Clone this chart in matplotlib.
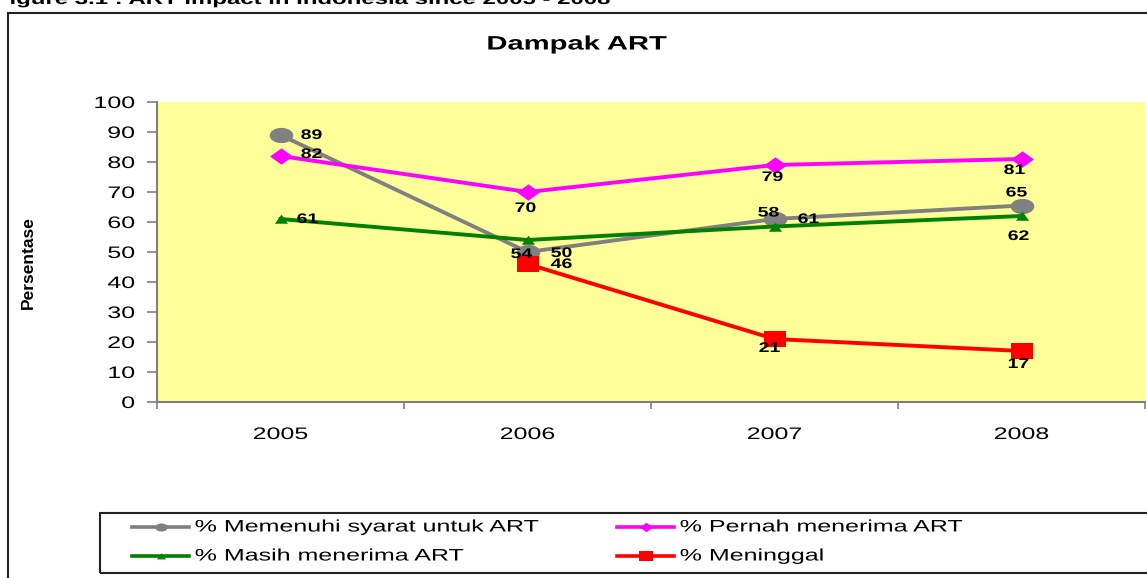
import numpy as np
import matplotlib
matplotlib.use("Agg")
import matplotlib.pyplot as plt
from matplotlib.patches import Rectangle
from matplotlib.lines import Line2D
from matplotlib.path import Path
from matplotlib.transforms import Affine2D
from matplotlib.patheffects import AbstractPathEffect

plt.rcParams['font.family'] = ['Liberation Sans', 'DejaVu Sans']

# data
years = ['2005', '2006', '2007', '2008']
memenuhi = [89, 50, 61, 65.5]
pernah = [82, 70, 79, 81]
masih = [61, 54, 58.5, 62]
meninggal = [None, 46, 21, 17]

memenuhi_lbl = ['89', '50', '61', '65']
pernah_lbl = ['82', '70', '79', '81']
masih_lbl = ['61', '54', '58', '62']
meninggal_lbl = [None, '46', '21', '17']

names = ['% Memenuhi syarat untuk ART', '% Pernah menerima ART',
         '% Masih menerima ART', '% Meninggal']


class Stretch(AbstractPathEffect):
    """widen text horizontally, the source picture was stretched"""
    def __init__(self, sx=1.5, anchor='center'):
        super().__init__()
        self.sx = sx
        self.anchor = anchor

    def draw_path(self, renderer, gc, tpath, affine, rgbFace=None):
        ext = tpath.transformed(affine).get_extents()
        cx = {'left': ext.x0, 'right': ext.x1}.get(self.anchor, 0.5 * (ext.x0 + ext.x1))
        aff = affine + Affine2D().translate(-cx, 0).scale(self.sx, 1).translate(cx, 0)
        renderer.draw_path(gc, tpath, aff, rgbFace)


SX = 1.5

# stretched marker shapes
t = np.linspace(0, 2 * np.pi, 61)
m_ell = Path(np.c_[1.55 * np.cos(t), np.sin(t)], closed=True)
m_dia = Path([(0, 1), (1.4, 0), (0, -1), (-1.4, 0), (0, 1)], closed=True)
m_sq = Path([(-1.45, -1), (1.45, -1), (1.45, 1), (-1.45, 1), (-1.45, -1)], closed=True)
m_tri = Path([(-0.65, -0.42), (0.65, -0.42), (0, 0.48), (-0.65, -0.42)], closed=True)

W, H = 1147, 578
fig = plt.figure(figsize=(W / 100, H / 100), dpi=100)

# outer chart frame
fig.patches.append(Rectangle((8 / W, -0.05), 1.1, (H - 13) / H + 0.05,
                             transform=fig.transFigure, fill=False,
                             edgecolor='#222222', lw=1.5, clip_on=False))
fig.text(-0.004, 1 - 4 / H, 'Figure 3.1 : ART Impact in Indonesia since 2005 - 2008',
         fontsize=11.5, fontweight='bold', va='baseline', ha='left',
         path_effects=[Stretch(SX, 'left')])
fig.text(577 / W, 1 - 45 / H, 'Dampak ART', fontsize=14, fontweight='bold',
         ha='center', va='center', path_effects=[Stretch(SX)])

ax = fig.add_axes([157 / W, (H - 402) / H, (1145 - 157) / W, 300 / H])
ax.set_facecolor('#FFFF99')
x = list(range(len(years)))

series = [
    (memenuhi, memenuhi_lbl, '#808080', m_ell, 17, 9,
     [(31, 0), (34, -1), (34, 0), (-5, 13)]),
    (pernah, pernah_lbl, '#FF00FF', m_dia, 16.5, 9.5,
     [(31, 2), (-2, -16), (-2, -12), (-7, -11)]),
    (masih, masih_lbl, '#008000', m_tri, 9.5, 6.5,
     [(27, 0), (-6, -14), (-6, 14), (-3, -20)]),
    (meninggal, meninggal_lbl, '#FF0000', m_sq, 16.5, 10,
     [None, (34, 0), (-5, -9), (-3, -13)]),
]

handles = []
for vals, lbls, col, mk, ms, ms_leg, offs in series:
    xs = [i for i, v in zip(x, vals) if v is not None]
    ys = [v for v in vals if v is not None]
    ax.plot(xs, ys, color=col, lw=2.8, marker=mk, markersize=ms,
            markeredgewidth=0, zorder=3, clip_on=False)
    for i, v in enumerate(vals):
        if v is None:
            continue
        ax.annotate(lbls[i], (i, v), xytext=offs[i], textcoords='offset pixels',
                    ha='center', va='center', fontsize=10, fontweight='bold',
                    zorder=5, path_effects=[Stretch(1.4)])
    handles.append((col, mk, ms_leg))

ax.set_xlim(-0.5, 3.5)
ax.set_ylim(0, 100)
ax.set_yticks(range(0, 101, 10))
ax.set_xticks(x)
ax.set_xticklabels(years)
ax.set_xticks([-0.5, 0.5, 1.5, 2.5, 3.5], minor=True)
ax.tick_params(axis='x', which='major', length=0, pad=18, labelsize=12)
ax.tick_params(axis='x', which='minor', length=5, color='#808080', width=1.2)
ax.tick_params(axis='y', length=7, color='#808080', width=1.2, labelsize=12, pad=9)
for tl in ax.get_xticklabels():
    tl.set_path_effects([Stretch(SX)])
for tl in ax.get_yticklabels():
    tl.set_path_effects([Stretch(SX, 'right')])
for s in ['top', 'right']:
    ax.spines[s].set_visible(False)
for s in ['left', 'bottom']:
    ax.spines[s].set_color('#808080')
    ax.spines[s].set_linewidth(1.5)

fig.text(28 / W, 1 - 263 / H, 'Persentase', rotation=90, fontsize=12.5,
         fontweight='bold', ha='center', va='center')

# legend box, two rows of two entries
fig.patches.append(Rectangle((100 / W, (H - 573) / H), 1.1, 60 / H,
                             transform=fig.transFigure, fill=False,
                             edgecolor='#222222', lw=1.5, clip_on=False))
leg_x = [132, 617, 132, 617]
leg_y = [527, 527, 556, 556]
leg_order = [0, 1, 2, 3]
for k, idx in enumerate(leg_order):
    col, mk, ms_leg = handles[idx]
    x0, y0 = leg_x[k], leg_y[k]
    fig.add_artist(Line2D([x0 / W, (x0 + 57) / W], [1 - y0 / H, 1 - y0 / H],
                          transform=fig.transFigure, color=col, lw=2.6))
    fig.add_artist(Line2D([(x0 + 28.5) / W], [1 - y0 / H], transform=fig.transFigure,
                          color=col, marker=mk, markersize=ms_leg,
                          markeredgewidth=0, linestyle='none'))
    fig.text((x0 + 63) / W, 1 - y0 / H, names[idx], fontsize=12, ha='left',
             va='center', path_effects=[Stretch(SX, 'left')])

fig.savefig('out.png', dpi=100)
